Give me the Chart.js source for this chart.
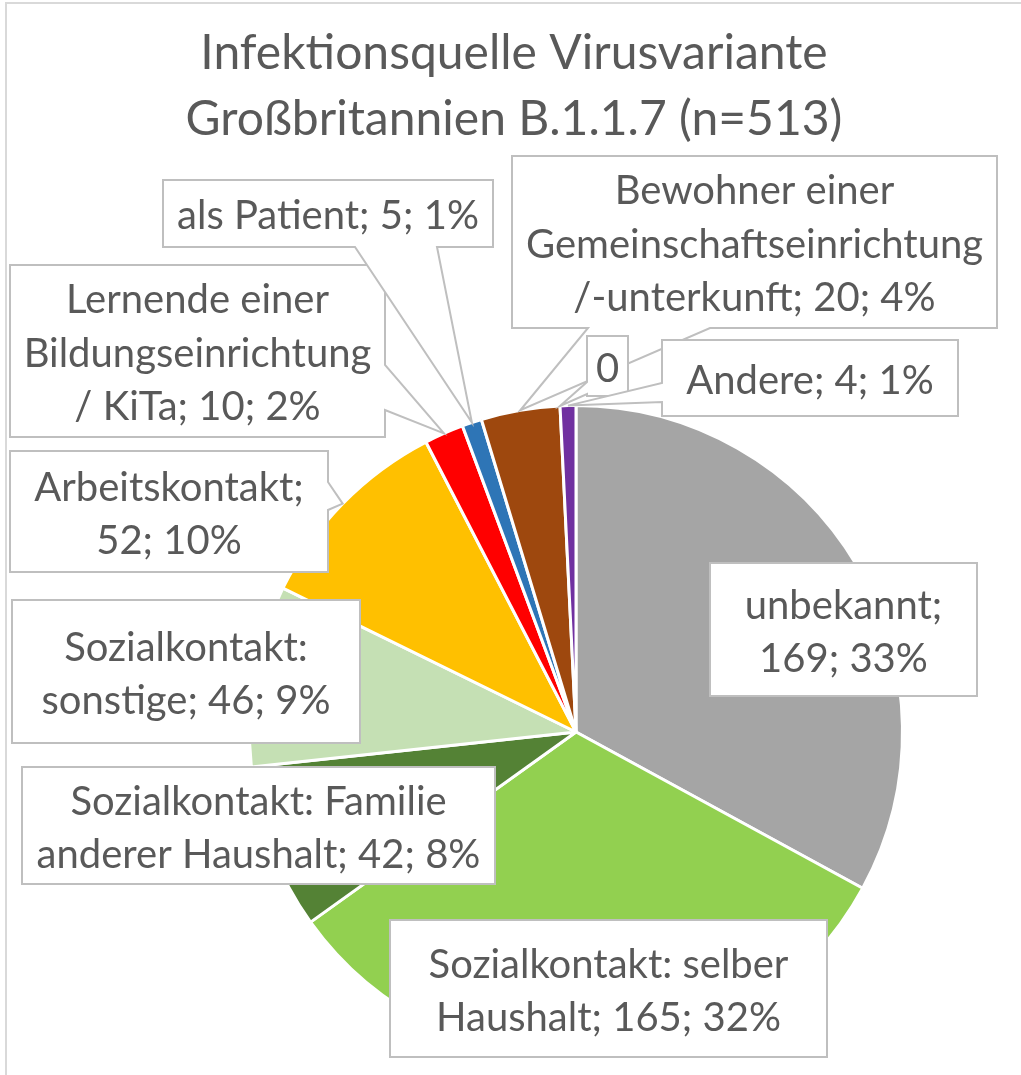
<!DOCTYPE html>
<html lang="de">
<head>
<meta charset="UTF-8">
<title>Infektionsquelle Virusvariante B.1.1.7</title>
<script src="https://cdn.jsdelivr.net/npm/chart.js"></script>
<style>
  html, body { margin: 0; padding: 0; background: #fff; overflow: hidden; }
  canvas { display: block; }
</style>
</head>
<body>
<canvas id="chart" width="1021" height="1075"></canvas>

<script>
    // Data
    const categories = [
        'unbekannt',
        'Sozialkontakt: selber Haushalt',
        'Sozialkontakt: Familie anderer Haushalt',
        'Sozialkontakt: sonstige',
        'Arbeitskontakt',
        'Lernende einer Bildungseinrichtung / KiTa',
        'als Patient',
        'Bewohner einer Gemeinschaftseinrichtung /-unterkunft',
        '',
        'Andere'
    ];
    const values = [169, 165, 42, 46, 52, 10, 5, 20, 0, 4];
    const colors = ['#A5A5A5', '#92D050', '#548235', '#C5E0B4', '#FFC000',
                    '#FF0000', '#2E75B6', '#9E480E', '#7F7F7F', '#7030A0'];
    const total = values.reduce((a, b) => a + b, 0);
    const titleLines = ['Infektionsquelle Virusvariante', 'Großbritannien B.1.1.7 (n=' + total + ')'];

    // label boxes (layout only), wedge = callout pointer on one edge
    const boxes = [
        { x: 710, y: 563, w: 267, h: 133 },
        { x: 390, y: 920, w: 437, h: 137 },
        { x: 22,  y: 767, w: 473, h: 117 },
        { x: 12,  y: 600, w: 348, h: 143 },
        { x: 10,  y: 451, w: 318, h: 121, wedge: { edge: 'right',  a: 482, b: 510 } },
        { x: 10,  y: 265, w: 375, h: 172, wedge: { edge: 'right',  a: 365, b: 410 } },
        { x: 163, y: 180, w: 330, h: 67,  wedge: { edge: 'bottom', a: 437, b: 355 } },
        { x: 512, y: 156, w: 485, h: 172, wedge: { edge: 'bottom', a: 710, b: 588 } },
        { x: 587, y: 336, w: 41,  h: 60,  wedge: { edge: 'left',   a: 394, b: 382 } },
        { x: 662, y: 340, w: 296, h: 76,  wedge: { edge: 'left',   a: 402, b: 383 } }
    ];

    const textColor = '#595959';
    const labelFont = '40px Lato';
    const labelLineHeight = 53.5;

    function labelText(i) {
        const pct = Math.round(values[i] / total * 100);
        if (!categories[i]) return String(values[i]);
        return categories[i] + '; ' + values[i] + '; ' + pct + '%';
    }

    function wrap(ctx, text, maxW) {
        const words = text.split(' ');
        const lines = [];
        let cur = '';
        words.forEach(w => {
            const t = cur ? cur + ' ' + w : w;
            if (cur && ctx.measureText(t).width > maxW) {
                lines.push(cur);
                cur = w;
            } else {
                cur = t;
            }
        });
        if (cur) lines.push(cur);
        return lines;
    }

    function calloutPath(ctx, b, tip) {
        const L = b.x, T = b.y, R = b.x + b.w, B = b.y + b.h;
        const w = b.wedge;
        const pts = [[L, T]];
        if (w && w.edge === 'top') pts.push([w.a, T], tip, [w.b, T]);
        pts.push([R, T]);
        if (w && w.edge === 'right') pts.push([R, w.a], tip, [R, w.b]);
        pts.push([R, B]);
        if (w && w.edge === 'bottom') pts.push([w.a, B], tip, [w.b, B]);
        pts.push([L, B]);
        if (w && w.edge === 'left') pts.push([L, w.a], tip, [L, w.b]);
        ctx.beginPath();
        ctx.moveTo(pts[0][0], pts[0][1]);
        for (let k = 1; k < pts.length; k++) ctx.lineTo(pts[k][0], pts[k][1]);
        ctx.closePath();
    }

    const framePlugin = {
        id: 'frame',
        beforeDraw(chart) {
            const ctx = chart.ctx;
            ctx.save();
            ctx.fillStyle = '#ffffff';
            ctx.fillRect(0, 0, chart.width, chart.height);
            ctx.strokeStyle = '#D9D9D9';
            ctx.lineWidth = 2;
            ctx.strokeRect(6, 3, chart.width + 20, chart.height + 20);

            // title
            ctx.fillStyle = textColor;
            ctx.font = '48px Lato';
            ctx.textAlign = 'center';
            ctx.textBaseline = 'middle';
            ctx.fillText(titleLines[0], 514, 54);
            ctx.fillText(titleLines[1], 514, 120);
            ctx.restore();
        }
    };

    const calloutPlugin = {
        id: 'callouts',
        afterDatasetsDraw(chart) {
            const ctx = chart.ctx;
            const arcs = chart.getDatasetMeta(0).data;
            ctx.save();
            ctx.font = labelFont;
            arcs.forEach((arc, i) => {
                const b = boxes[i];
                const p = arc.getProps(['x', 'y', 'startAngle', 'endAngle', 'outerRadius'], true);
                const mid = (p.startAngle + p.endAngle) / 2;
                const tip = [p.x + Math.cos(mid) * p.outerRadius, p.y + Math.sin(mid) * p.outerRadius];

                calloutPath(ctx, b, tip);
                ctx.fillStyle = '#ffffff';
                ctx.fill();
                ctx.strokeStyle = '#BFBFBF';
                ctx.lineWidth = 2;
                ctx.lineJoin = 'miter';
                ctx.stroke();

                const lines = wrap(ctx, labelText(i), b.w - 16);
                ctx.fillStyle = textColor;
                ctx.textAlign = 'center';
                ctx.textBaseline = 'middle';
                const cy = b.y + b.h / 2 + 3;
                lines.forEach((ln, k) => {
                    const y = cy + (k - (lines.length - 1) / 2) * labelLineHeight;
                    ctx.fillText(ln, b.x + b.w / 2, y);
                });
            });
            ctx.restore();
        }
    };

    function draw() {
        const ctx = document.getElementById('chart').getContext('2d');
        new Chart(ctx, {
            type: 'pie',
            data: {
                labels: categories,
                datasets: [{
                    data: values,
                    backgroundColor: colors,
                    borderColor: '#ffffff',
                    borderWidth: 3
                }]
            },
            options: {
                responsive: false,
                animation: false,
                layout: { padding: { left: 248, right: 117, top: 404, bottom: 15 } },
                plugins: {
                    legend: { display: false },
                    tooltip: { enabled: false },
                    title: { display: false }
                }
            },
            plugins: [framePlugin, calloutPlugin]
        });
    }

    if (document.fonts && document.fonts.load) {
        document.fonts.load('40px Lato').then(draw, draw);
    } else {
        draw();
    }
</script>
</body>
</html>
